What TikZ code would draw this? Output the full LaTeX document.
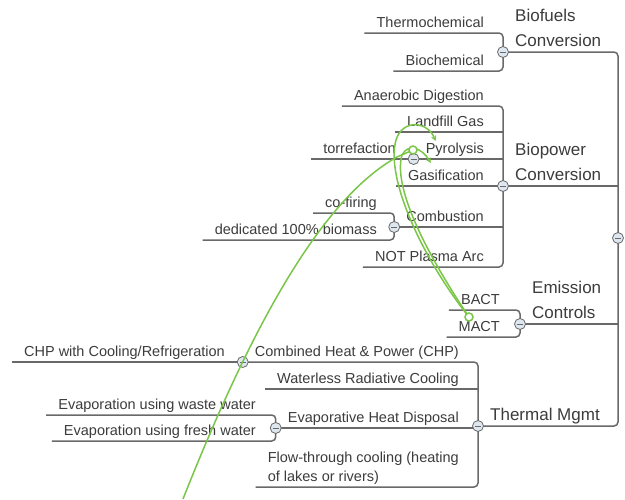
\documentclass[tikz,border=0pt]{standalone}
\usepackage{fontspec}
\setmainfont{Liberation Sans}
\definecolor{txtgray}{RGB}{60,60,60}
\definecolor{linegray}{RGB}{105,105,105}
\definecolor{knobfill}{RGB}{222,230,240}
\definecolor{relgreen}{RGB}{122,198,72}
\begin{document}
\begin{tikzpicture}[x=1pt,y=-1pt,
    topic/.style={anchor=south east,inner xsep=12pt,inner ysep=2pt,text depth=3pt,text=txtgray,font=\fontsize{14.5}{19}\selectfont},
    main/.style={anchor=south west,align=left,inner xsep=12pt,inner ysep=5pt,text depth=0pt,text=txtgray,font=\fontsize{17}{25}\selectfont},
    branch/.style={draw=linegray,line width=1.5pt,rounded corners=4pt},
    knob/.style={circle,draw=linegray,fill=knobfill,line width=0.8pt,minimum size=11pt,inner sep=0pt,
        path picture={\draw[linegray,line width=1pt] ([xshift=-3pt]path picture bounding box.center) -- ([xshift=3pt]path picture bounding box.center);}},
    rel/.style={draw=relgreen,line width=1.5pt},
    relend/.style={circle,draw=relgreen,fill=white,line width=1.5pt,minimum size=8pt,inner sep=0pt}]
    \fill[white] (0,0) rectangle (625,499);
    \useasboundingbox (0,0) rectangle (625,499);

    \coordinate (kroot) at (618,238);
    \coordinate (kfuel) at (503,52);
    \coordinate (kpower) at (503,186);
    \coordinate (kemis) at (520,324);
    \coordinate (ktherm) at (478,426);

    \node[main] (fuel) at (kfuel) {Biofuels\\Conversion};
    \node[main] (power) at (kpower) {Biopower\\Conversion};
    \node[main] (emis) at (kemis) {Emission\\Controls};
    \node[main] (therm) at (ktherm) {Thermal Mgmt};

    \node[topic] (thermo) at (496,33) {Thermochemical};
    \node[topic] (bioch) at (496,71) {Biochemical};

    \node[topic] (anaer) at (496,106) {Anaerobic Digestion};
    \node[topic] (landf) at (496,132) {Landfill Gas};
    \node[topic] (pyro) at (496,159) {Pyrolysis};
    \node[topic] (gasif) at (496,186) {Gasification};
    \node[topic] (combu) at (496,227) {Combustion};
    \node[topic] (plasma) at (496,267) {NOT Plasma Arc};
    \coordinate (kpyro) at (pyro.south west);
    \coordinate (kcomb) at (combu.south west);
    \node[topic] (torref) at (408,159) {torrefaction};
    \node[topic] (cofir) at (389,213) {co-firing};
    \node[topic] (dedic) at (389,240) {dedicated 100\% biomass};

    \node[topic] (bact) at (512,310) {BACT};
    \node[topic] (mact) at (512,337) {MACT};

    \node[topic] (chp) at (471,362) {Combined Heat \& Power (CHP)};
    \node[topic] (waterl) at (471,389) {Waterless Radiative Cooling};
    \node[topic] (evaph) at (471,428) {Evaporative Heat Disposal};
    \node[topic,align=left] (flow) at (471,487) {Flow-through cooling (heating\\of lakes or rivers)};
    \coordinate (kchp) at (chp.south west);
    \coordinate (kevap) at (evaph.south west);
    \node[topic] (cool) at (237,362) {CHP with Cooling/Refrigeration};
    \node[topic] (waste) at (268,415) {Evaporation using waste water};
    \node[topic] (fresh) at (268,441) {Evaporation using fresh water};

    \draw[branch] (fuel.south west) -- (fuel.south west -| kroot) -- (therm.south west -| kroot) -- (therm.south west);
    \draw[branch] (power.south west) -- (power.south west -| kroot);
    \draw[branch] (emis.south west) -- (emis.south west -| kroot);

    \draw[branch] (thermo.south west) -- (thermo.south east -| kfuel) -- (bioch.south east -| kfuel) -- (bioch.south west);
    \draw[branch] (anaer.south west) -- (anaer.south east -| kpower) -- (plasma.south east -| kpower) -- (plasma.south west);
    \foreach \n in {landf,pyro,gasif,combu}
        \draw[branch] (\n.south west) -- (\n.south east -| kpower);
    \draw[branch] (bact.south west) -- (bact.south east -| kemis) -- (mact.south east -| kemis) -- (mact.south west);
    \draw[branch] (chp.south west) -- (chp.south east -| ktherm) -- (flow.south east -| ktherm) -- (flow.south west);
    \foreach \n in {waterl,evaph}
        \draw[branch] (\n.south west) -- (\n.south east -| ktherm);

    \draw[branch] (torref.south west) -- (kpyro);
    \draw[branch] (cofir.south west) -- (cofir.south east -| kcomb) -- (dedic.south east -| kcomb) -- (dedic.south west);
    \draw[branch] (cool.south west) -- (kchp);
    \draw[branch] (waste.south west) -- (waste.south east -| kevap) -- (fresh.south east -| kevap) -- (fresh.south west);

    \foreach \k in {kroot,kfuel,kpower,kemis,ktherm,kpyro,kcomb,kchp,kevap}
        \node[knob] (n\k) at (\k) {};

    \coordinate (gfree) at (183,499);
    \coordinate (gtop) at (413,150);
    \coordinate (gmact) at (469,317);
    \draw[rel] (gfree) .. controls (250,330) and (320,200) .. (397,157) -- (gtop);
    \draw[rel,-stealth] (gmact) .. controls (425,262) and (385,180) .. (396,140) .. controls (403,118) and (428,122) .. ([xshift=22pt]pyro.north west);
    \draw[rel,-stealth] (gmact) .. controls (432,262) and (392,190) .. (402,155) .. controls (408,143) and (422,148) .. ([xshift=35pt,yshift=5pt]gasif.north west);
    \node[relend] (ringtop) at (gtop) {};
    \node[relend] (ringmact) at (gmact) {};
\end{tikzpicture}
\end{document}
